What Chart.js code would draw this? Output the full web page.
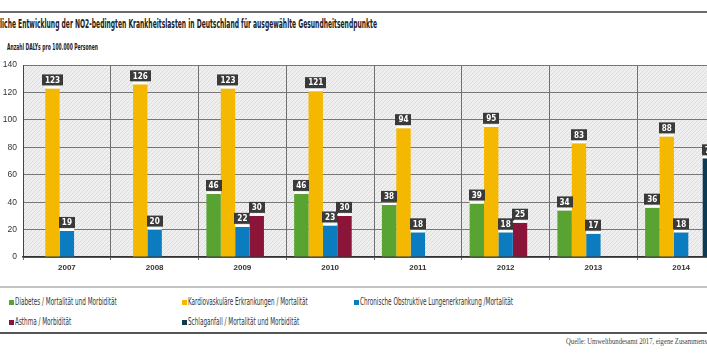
<!DOCTYPE html>
<html lang="de">
<head>
<meta charset="utf-8">
<script src="https://cdn.jsdelivr.net/npm/chart.js@4.4.1/dist/chart.umd.min.js"></script>
<style>
  html, body { margin: 0; padding: 0; }
  body { width: 707px; height: 354px; overflow: hidden; position: relative; background: #fff;
         font-family: "Liberation Sans Narrow", "DejaVu Sans Condensed", "Liberation Sans", sans-serif; color: #222; }
  .rule { position: absolute; left: 0; width: 100%; }
  #title { position: absolute; top: 17px; left: 0; font-weight: bold; font-size: 12px; line-height: 14px;
           white-space: nowrap; transform-origin: 0 0; }
  #sub { position: absolute; top: 42px; left: 7px; font-weight: bold; font-size: 9px; line-height: 11px;
         white-space: nowrap; transform-origin: 0 50%; }
  #chart { position: absolute; top: 54px; left: 0; }
  #legend { position: absolute; top: 296px; left: 9px; display: grid; grid-template-columns: 173px 172px auto;
            row-gap: 8px; font-size: 10px; line-height: 12px; color: #333; }
  #legend .it { white-space: nowrap; display: flex; align-items: center; }
  #legend .sq { width: 5px; height: 5px; margin-right: 1px; flex: none; }
  #legend .tx { display: inline-block; transform-origin: 0 50%; }
  #src { position: absolute; top: 337px; left: 566px; font-family: "Liberation Serif", serif; font-size: 7.5px;
         line-height: 10px; color: #444; white-space: nowrap; transform-origin: 0 50%; }
</style>
</head>
<body>
<div class="rule" style="top:11px;height:2px;background:#6b6b6b"></div>
<div id="title"><span id="tA">Zeit</span><span id="tB">liche Entwicklung der NO2-bedingten Krankheitslasten in Deutschland für ausgewählte Gesundheitsendpunkte</span></div>
<div id="sub">Anzahl DALYs pro 100.000 Personen</div>
<canvas id="chart" width="730" height="223"></canvas>
<div class="rule" style="top:286px;height:2px;background:#c4c4c4"></div>
<div id="legend"></div>
<div class="rule" style="top:332px;height:2px;background:#555"></div>
<div id="src"><span id="sA">Quelle: Umweltbundesamt 2017, eigene Zusammens</span><span>tellung</span></div>
<script>
// Werte
var years = ['2007', '2008', '2009', '2010', '2011', '2012', '2013', '2014'];
var diabetes = [null, null, 46, 46, 38, 39, 34, 36];
var kardio = [123, 126, 123, 121, 94, 95, 83, 88];
var copd = [19, 20, 22, 23, 18, 18, 17, 18];
var asthma = [null, null, 30, 30, null, 25, null, null];
var schlaganfall = [null, null, null, null, null, null, null, 72];
var seriesNames = ['Diabetes / Mortalität und Morbidität', 'Kardiovaskuläre Erkrankungen / Mortalität',
  'Chronische Obstruktive Lungenerkrankung /Mortalität', 'Asthma / Morbidität', 'Schlaganfall / Mortalität und Morbidität'];
var seriesColors = ['#58a332', '#f5b800', '#0b7cbf', '#8b1538', '#0d3a55'];
var yMax = 140, yStep = 20;

var values = [diabetes, kardio, copd, asthma, schlaganfall];

// schraffierter Hintergrund
function hatch(ctx) {
  var c = document.createElement('canvas');
  c.width = 4; c.height = 4;
  var p = c.getContext('2d');
  p.fillStyle = '#efefef'; p.fillRect(0, 0, 4, 4);
  p.strokeStyle = '#dcdcdc'; p.lineWidth = 1;
  p.beginPath(); p.moveTo(0, 4); p.lineTo(4, 0); p.stroke();
  return ctx.createPattern(c, 'repeat');
}

var bgPlugin = {
  id: 'bg',
  beforeDraw: function (chart) {
    var a = chart.chartArea, ctx = chart.ctx;
    ctx.save();
    ctx.fillStyle = hatch(ctx);
    ctx.fillRect(a.left, a.top, a.right - a.left, a.bottom - a.top);
    ctx.restore();
  }
};

var labelPlugin = {
  id: 'boxlabels',
  afterDatasetsDraw: function (chart) {
    var ctx = chart.ctx;
    ctx.save();
    ctx.font = 'bold 9px "Liberation Sans Narrow", "DejaVu Sans Condensed", "Liberation Sans", sans-serif';
    ctx.textAlign = 'center';
    ctx.textBaseline = 'middle';
    chart.data.datasets.forEach(function (ds, i) {
      chart.getDatasetMeta(i).data.forEach(function (bar, j) {
        var v = ds.data[j];
        if (v == null) return;
        var t = String(v);
        var sx = 0.9;
        var w = ctx.measureText(t).width * sx + 6, h = 11;
        var bottom = bar.y - 3;
        ctx.fillStyle = '#fff';
        ctx.fillRect(bar.x - bar.width / 2, bar.y - 2, bar.width, 2);
        ctx.fillStyle = '#3a3a3a';
        ctx.fillRect(Math.round(bar.x - w / 2), bottom - h, Math.round(w), h);
        ctx.fillStyle = '#fff';
        ctx.save();
        ctx.translate(bar.x, bottom - h / 2 + 0.5);
        ctx.scale(sx, 1);
        ctx.fillText(t, 0, 0);
        ctx.restore();
      });
    });
    ctx.restore();
  }
};

var chart = new Chart(document.getElementById('chart'), {
  type: 'bar',
  data: {
    labels: years,
    datasets: values.map(function (d, i) {
      return { label: seriesNames[i], data: d, backgroundColor: seriesColors[i], borderWidth: 0,
               categoryPercentage: 0.82, barPercentage: 1.0 };
    })
  },
  options: {
    responsive: false,
    animation: false,
    devicePixelRatio: 1,
    layout: { padding: { top: 10, right: 5, left: 0, bottom: 0 } },
    plugins: { legend: { display: false }, tooltip: { enabled: false } },
    scales: {
      x: {
        offset: true,
        grid: { offset: true, color: '#6f6f6f', lineWidth: 1, tickLength: 3 },
        border: { color: '#333', width: 1.5 },
        ticks: { color: '#333', padding: 3, font: { family: '"Liberation Sans", sans-serif', size: 8, weight: 'bold' } },
        afterFit: function (s) { s.height = 20; }
      },
      y: {
        min: 0, max: yMax,
        grid: { color: '#777', lineWidth: 1, drawTicks: false },
        border: { color: '#444', width: 1 },
        ticks: { stepSize: yStep, color: '#333', padding: 6, font: { family: '"Liberation Sans", sans-serif', size: 8.5 } },
        afterFit: function (s) { s.width = 23; }
      }
    }
  },
  plugins: [bgPlugin, labelPlugin]
});

// Legende aus den Datensätzen
var legend = document.getElementById('legend');
chart.data.datasets.forEach(function (ds) {
  var it = document.createElement('div');
  it.className = 'it';
  it.innerHTML = '<span class="sq" style="background:' + ds.backgroundColor + '"></span><span class="tx">' + ds.label + '</span>';
  legend.appendChild(it);
});

// Textbreiten an die Vorlage anpassen (schmale Schrift)
var tA = document.getElementById('tA'), tB = document.getElementById('tB');
var s = 377 / tB.getBoundingClientRect().width;
document.getElementById('title').style.transform = 'translateX(' + (-tA.getBoundingClientRect().width * s) + 'px) scaleX(' + s + ')';
var sub = document.getElementById('sub');
sub.style.transform = 'scaleX(' + (91 / sub.getBoundingClientRect().width) + ')';
var txs = legend.querySelectorAll('.tx');
var ls = 153 / txs[2].getBoundingClientRect().width;
txs.forEach(function (t) { t.style.transform = 'scaleX(' + ls + ')'; });
var src = document.getElementById('src');
src.style.transform = 'scaleX(' + (141 / document.getElementById('sA').getBoundingClientRect().width) + ')';
</script>
</body>
</html>
